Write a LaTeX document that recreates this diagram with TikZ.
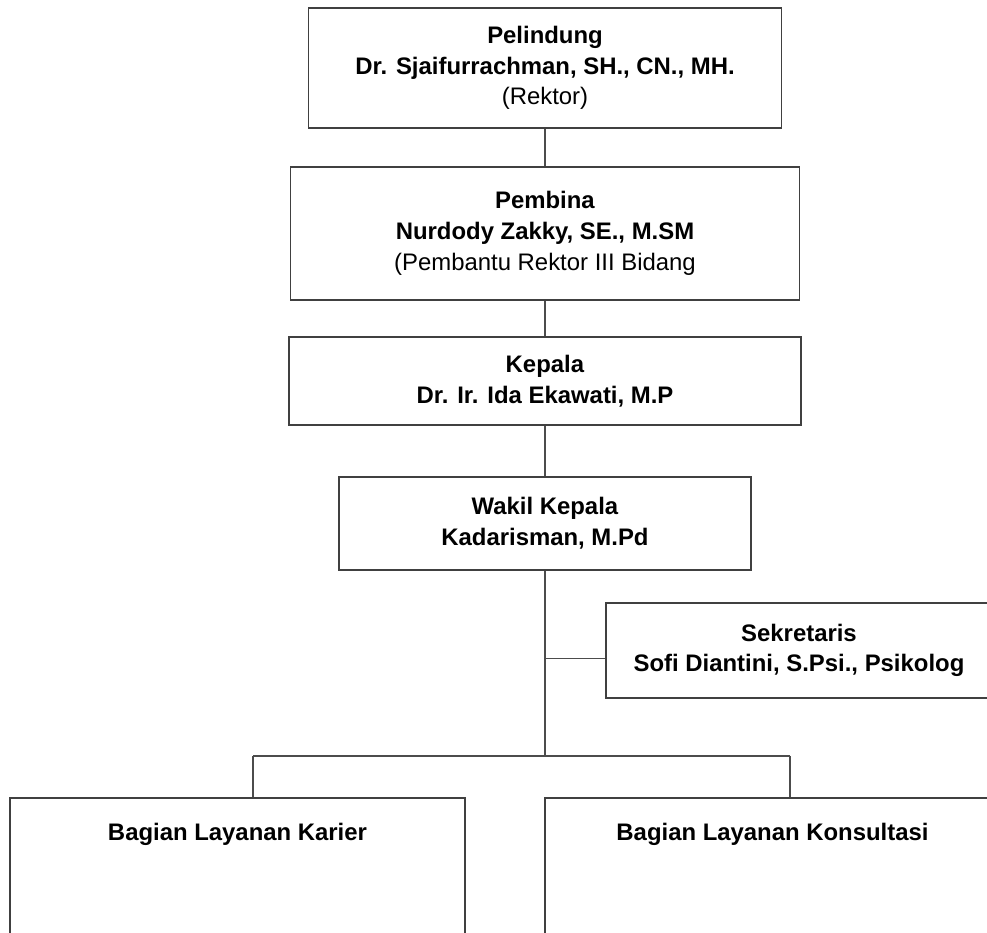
\documentclass[tikz,border=0pt]{standalone}
\usepackage{fontspec}
\setmainfont{Liberation Sans}
\begin{document}
\begin{tikzpicture}[every node/.style={font=\fontsize{13.6}{17.5}\selectfont},
  unit/.style={draw=black!75,line width=0.9pt,fill=white,align=center,inner sep=0pt},
  link/.style={draw=black!70,line width=0.9pt}]
  \useasboundingbox (0,0) rectangle (19.74,18.66);
  \clip (0,0) rectangle (19.74,18.66);
  \node[unit,minimum width=9.46cm,minimum height=2.4cm] (pel) at (10.9,17.30) {\textbf{Pelindung}\\\textbf{Dr. Sjaifurrachman, SH., CN., MH.}\\(Rektor)};
  \node[unit,minimum width=10.18cm,minimum height=2.66cm] (pem) at (10.9,13.99) {\textbf{Pembina}\\\textbf{Nurdody Zakky, SE., M.SM}\\(Pembantu Rektor III Bidang};
  \node[unit,minimum width=10.24cm,minimum height=1.76cm] (kep) at (10.9,11.04) {\textbf{Kepala}\\\textbf{Dr. Ir. Ida Ekawati, M.P}};
  \node[unit,minimum width=8.24cm,minimum height=1.86cm] (wak) at (10.9,8.19) {\textbf{Wakil Kepala}\\\textbf{Kadarisman, M.Pd}};
  \node[unit,minimum width=7.72cm,minimum height=1.9cm] (sek) at (15.98,5.65) {\textbf{Sekretaris}\\\textbf{Sofi Diantini, S.Psi., Psikolog}};
  \node[unit,minimum width=9.1cm,minimum height=3.24cm,label={[anchor=north,yshift=-0.4cm]north:\textbf{Bagian Layanan Karier}}] (kar) at (4.75,1.08) {};
  \node[unit,minimum width=9.1cm,minimum height=3.24cm,label={[anchor=north,yshift=-0.4cm]north:\textbf{Bagian Layanan Konsultasi}}] (kon) at (15.45,1.08) {};
  % garis komando
  \coordinate (hub) at (10.9,3.54);
  \coordinate (kl) at (5.06,3.54);
  \coordinate (kr) at (15.8,3.54);
  \draw[link] (pel) -- (pem);
  \draw[link] (pem) -- (kep);
  \draw[link] (kep) -- (wak);
  \draw[link] (wak) -- (hub);
  \draw[link] ([yshift=-0.16cm]sek.west) -- ([yshift=-0.16cm]sek.west -| hub);
  \draw[link] (kl) -- (kr);
  \draw[link] (kl) -- (kl |- kar.north);
  \draw[link] (kr) -- (kr |- kon.north);
\end{tikzpicture}
\end{document}
